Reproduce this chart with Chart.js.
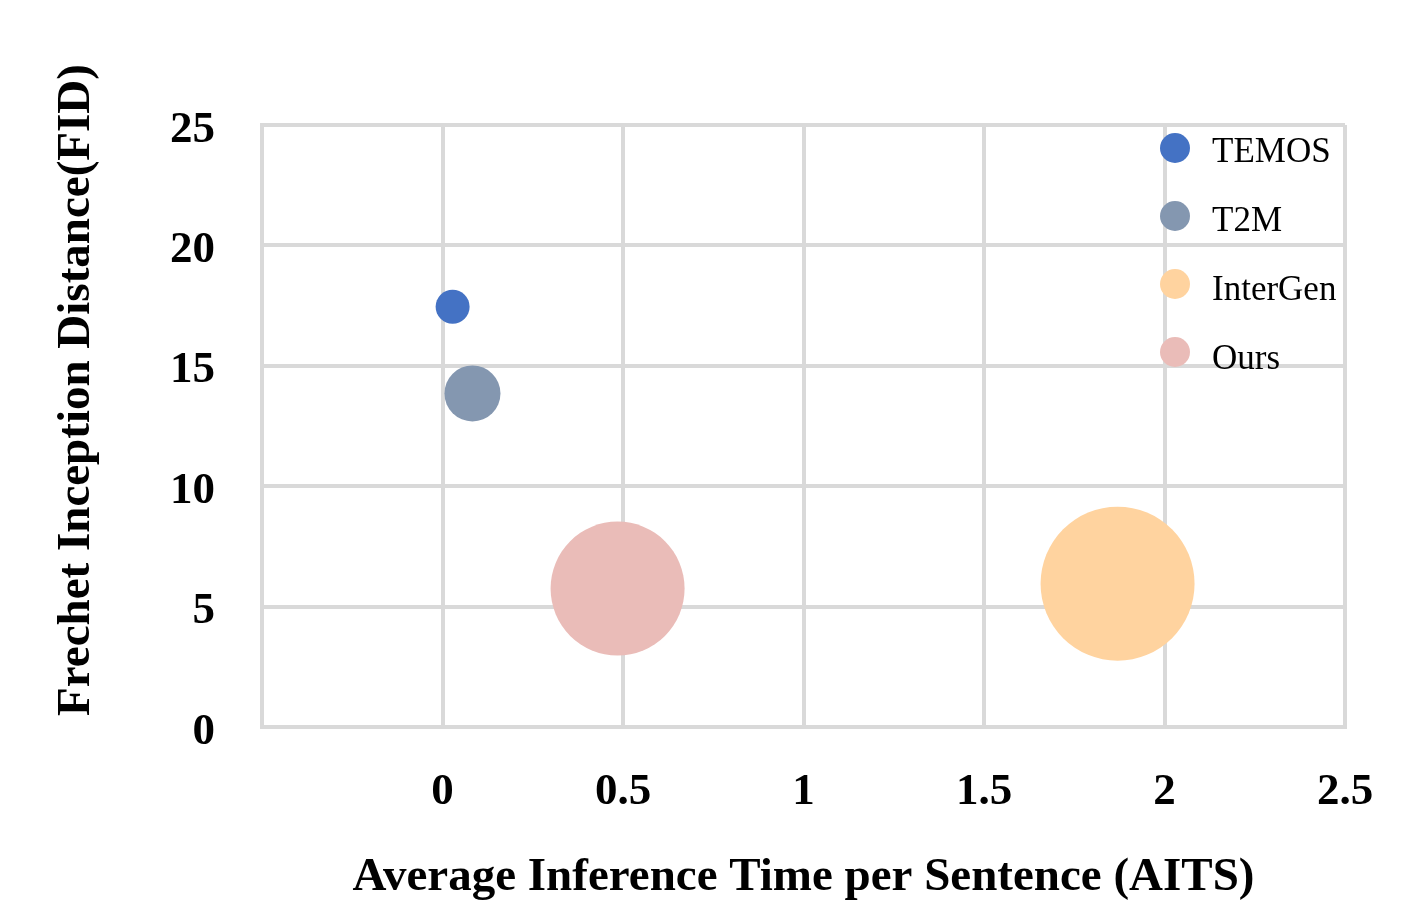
<!DOCTYPE html>
<html>
<head>
<meta charset="utf-8">
<script src="https://cdn.jsdelivr.net/npm/chart.js@4.4.1/dist/chart.umd.min.js"></script>
<style>
  html, body { margin: 0; padding: 0; background: #fff; }
  #wrap { width: 1410px; height: 914px; }
</style>
</head>
<body>
<div id="wrap"><canvas id="bubble-chart"></canvas></div>
<script>
// methods and their (AITS, FID, bubble radius) values
const methods = ["TEMOS", "T2M", "InterGen", "Ours"];
const aits = [0.028, 0.083, 1.87, 0.485];
const fid = [17.45, 13.85, 5.95, 5.75];
const sizes = [17, 28, 77, 67];
const colors = ["#4472C4", "#8497B0", "#FFD39F", "#EABCB8"];

const xTicks = [-0.5, 0, 0.5, 1, 1.5, 2, 2.5];
const yTicks = [0, 5, 10, 15, 20, 25];

const serif = "'Liberation Serif', 'Times New Roman', serif";
const gridColor = "#d9d9d9";

let datasets = [];
for (let i = 0; i < methods.length; i++) {
  datasets.push({
    label: methods[i],
    data: [{ x: aits[i], y: fid[i], r: sizes[i] }],
    backgroundColor: colors[i],
    borderWidth: 0,
    hoverBorderWidth: 0
  });
}

// legend drawn inside the plot, top right, with round markers
const insideLegend = {
  id: 'insideLegend',
  afterDraw(chart) {
    const ctx = chart.ctx;
    const area = chart.chartArea;
    ctx.save();
    ctx.font = "35px " + serif;
    ctx.textBaseline = 'middle';
    chart.data.datasets.forEach(function (ds, i) {
      const cx = area.right - 170;
      const cy = area.top + 23 + i * 68;
      ctx.beginPath();
      ctx.arc(cx, cy, 15, 0, Math.PI * 2);
      ctx.fillStyle = ds.backgroundColor;
      ctx.fill();
      ctx.fillStyle = '#000';
      ctx.fillText(ds.label, cx + 37, cy + 5 + i);
    });
    ctx.restore();
  }
};

// y title sits a bit above the plot centre in the original
const yTitle = {
  id: 'yTitle',
  afterDraw(chart) {
    const ctx = chart.ctx;
    const area = chart.chartArea;
    ctx.save();
    ctx.translate(77, (area.top + area.bottom) / 2 - 36);
    ctx.rotate(-Math.PI / 2);
    ctx.font = "bold 47px " + serif;
    ctx.textAlign = 'center';
    ctx.textBaseline = 'middle';
    ctx.fillStyle = '#000';
    ctx.fillText("Frechet Inception Distance(FID)", 0, 0);
    ctx.restore();
  }
};

new Chart(document.getElementById("bubble-chart"), {
  type: 'bubble',
  data: { datasets: datasets },
  plugins: [insideLegend, yTitle],
  options: {
    responsive: true,
    maintainAspectRatio: false,
    animation: false,
    layout: { autoPadding: false, padding: { left: 0, right: 65, top: 125, bottom: 0 } },
    plugins: {
      legend: { display: false },
      tooltip: { enabled: false }
    },
    scales: {
      x: {
        type: 'linear',
        min: -0.5,
        max: 2.5,
        afterBuildTicks: function (axis) { axis.ticks = xTicks.map(v => ({ value: v })); },
        afterFit: function (axis) {
          axis.height = 187;
          axis.paddingLeft = 0;
          axis.paddingRight = 0;
        },
        ticks: {
          padding: 38,
          color: '#000',
          font: { family: serif, size: 45, weight: 'bold' },
          callback: function (v) { return v < 0 ? '' : String(v); }
        },
        grid: { color: gridColor, lineWidth: 4, drawTicks: false },
        border: { color: gridColor, width: 4 },
        title: {
          display: true,
          text: "Average Inference Time per Sentence (AITS)",
          color: '#000',
          font: { family: serif, size: 47, weight: 'bold' },
          padding: { top: 0, bottom: 8 }
        }
      },
      y: {
        type: 'linear',
        min: 0,
        max: 25,
        afterBuildTicks: function (axis) { axis.ticks = yTicks.map(v => ({ value: v })); },
        afterFit: function (axis) {
          axis.width = 262;
          axis.paddingTop = 0;
          axis.paddingBottom = 0;
        },
        ticks: {
          padding: 47,
          labelOffset: 5,
          color: '#000',
          font: { family: serif, size: 45, weight: 'bold' }
        },
        grid: { color: gridColor, lineWidth: 4, drawTicks: false },
        border: { color: gridColor, width: 4 }
      }
    }
  }
});
</script>
</body>
</html>
